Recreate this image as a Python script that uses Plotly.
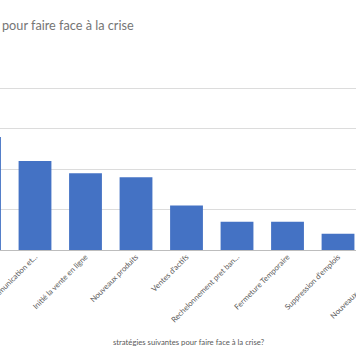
import plotly.graph_objects as go

categories = [
    "Réduction des coûts",
    "Communication et...",
    "Initié la vente en ligne",
    "Nouveaux produits",
    "Ventes d'actifs",
    "Rechelonnement pret ban...",
    "Fermeture Temporaire",
    "Suppression d'emplois",
    "Nouveaux partenariats",
]
values = [28, 22, 19, 18, 11, 7, 7, 4, 3]
title_text = "pour faire face à la crise"
x_title_text = "stratégies suivantes pour faire face à la crise?"

FONT = "Lato, 'Open Sans', sans-serif"
TXT = "#595959"
SMALL = 7.7

fig = go.Figure(go.Bar(
    x=list(range(len(categories))),
    y=values,
    marker=dict(color="#4472C4", line=dict(width=0)),
    hoverinfo="skip",
))

fig.update_layout(
    width=356, height=364,
    margin=dict(l=0, r=0, t=48, b=114),
    paper_bgcolor="white", plot_bgcolor="white",
    bargap=0.35,
    showlegend=False,
    font=dict(family=FONT, color=TXT),
    xaxis=dict(
        tickmode="array",
        tickvals=list(range(len(categories))),
        ticktext=categories,
        range=[0.307, 7.356],
        tickangle=-45,
        ticklabeloverflow="allow",
        tickfont=dict(size=SMALL, color=TXT, family=FONT),
        showgrid=False, zeroline=False, showline=False,
        ticks="", automargin=False,
    ),
    yaxis=dict(
        range=[0, 50], dtick=10,
        showticklabels=False,
        gridcolor="#dcdcdc", gridwidth=1,
        zeroline=True, zerolinecolor="#bdbdbd", zerolinewidth=1,
        showline=False, ticks="", automargin=False,
    ),
    annotations=[
        dict(text=title_text, xref="paper", yref="paper", x=0, y=1.114,
             xanchor="left", yanchor="middle", showarrow=False,
             font=dict(size=12.7, color="#757575", family=FONT)),
        dict(text=x_title_text, xref="paper", yref="paper", x=188.5/356, y=-0.455,
             xanchor="center", yanchor="middle", showarrow=False,
             font=dict(size=SMALL, color=TXT, family=FONT)),
        dict(text=categories[8], xref="paper", yref="paper", x=392/356, y=-0.03,
             xanchor="right", yanchor="top", textangle=-45, showarrow=False,
             font=dict(size=SMALL, color=TXT, family=FONT)),
    ],
)

fig.write_html(
    "out.html",
    config={"displayModeBar": False, "staticPlot": True},
    post_script="document.body.style.margin='0';document.body.style.overflow='hidden';",
)
